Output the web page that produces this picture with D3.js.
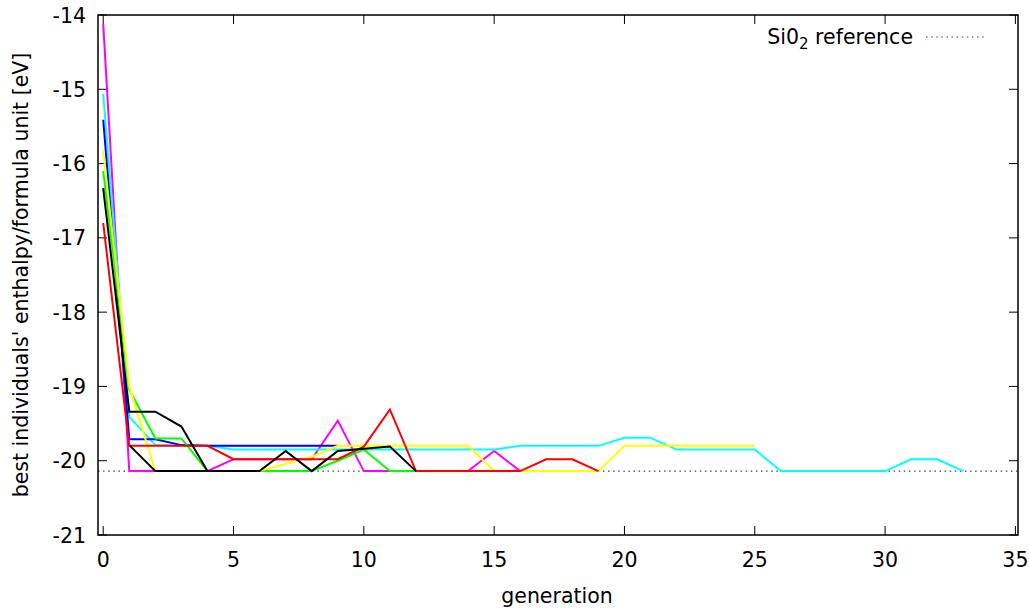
<!DOCTYPE html>
<html>
<head>
<meta charset="utf-8">
<script src="https://cdn.jsdelivr.net/npm/d3@7"></script>
<style>
  body { margin: 0; background: #fff; }
  text { font-family: "DejaVu Sans", sans-serif; font-size: 20.5px; fill: #000; }
</style>
</head>
<body>
<div id="chart"></div>
<script>
// best enthalpy per generation, one array per run (index = generation)
var magenta = [-14.12, -20.14, -20.14, -20.14, -20.14, -19.98, -19.98, -19.98, -19.98, -19.46,
  -20.14, -20.14, -20.14, -20.14, -20.14, -19.87, -20.14];
var cyan = [-15.06, -19.41, -19.79, -19.80, -19.80, -19.85, -19.85, -19.85, -19.85, -19.85,
  -19.85, -19.85, -19.85, -19.85, -19.85, -19.85, -19.80, -19.80, -19.80, -19.80,
  -19.69, -19.69, -19.85, -19.85, -19.85, -19.85, -20.14, -20.14, -20.14, -20.14,
  -20.14, -19.98, -19.98, -20.14];
var blue = [-15.41, -19.71, -19.71, -19.79, -19.80, -19.80, -19.80, -19.80, -19.80, -19.80];
var green = [-16.10, -19.04, -19.70, -19.70, -20.14, -20.14, -20.14, -20.14, -20.14, -20.00,
  -19.85, -20.14, -20.14];
var yellow = [-15.82, -19.00, -20.14, -20.14, -20.14, -20.14, -20.14, -20.04, -19.95, -19.80,
  -19.80, -19.80, -19.80, -19.80, -19.80, -20.14, -20.14, -20.14, -20.14, -20.14,
  -19.80, -19.80, -19.80, -19.80, -19.80, -19.80];
var red = [-16.80, -19.80, -19.80, -19.80, -19.80, -19.98, -19.98, -19.98, -19.98, -19.98,
  -19.81, -19.31, -20.14, -20.14, -20.14, -20.14, -20.14, -19.98, -19.98, -20.14];
var black = [-16.33, -19.34, -19.34, -19.54, -20.14, -20.14, -20.14, -19.87, -20.14, -19.87,
  -19.84, -19.81, -20.14];
var black2 = [null, -19.79, -20.14, -20.14, -20.14];

var sio2Ref = -20.14;
var xTicks = [0, 5, 10, 15, 20, 25, 30, 35];
var yTicks = [-21, -20, -19, -18, -17, -16, -15, -14];

var runs = [
  {values: magenta, color: "#ff00ff"},
  {values: cyan, color: "#00ffff"},
  {values: blue, color: "#0000ff"},
  {values: green, color: "#00ff00"},
  {values: yellow, color: "#ffff00"},
  {values: red, color: "#ff0000"},
  {values: black, color: "#000000"},
  {values: black2, color: "#000000"}
];

var W = 1029, H = 610;
var pLeft = 98, pRight = 1018, pTop = 15, pBottom = 535;

var svg = d3.select("#chart").append("svg")
  .attr("width", W).attr("height", H);

var x = d3.scaleLinear().domain([-0.2, 35.1]).range([pLeft, pRight]);
var y = d3.scaleLinear().domain([-21, -14]).range([pBottom, pTop]);

// ticks (inside, mirrored like gnuplot)
var tickLen = 9;
var g = svg.append("g");
xTicks.forEach(function(t){
  g.append("line").attr("x1", x(t)).attr("x2", x(t))
    .attr("y1", pBottom).attr("y2", pBottom - tickLen)
    .attr("stroke", "#000").attr("stroke-width", 1);
  g.append("line").attr("x1", x(t)).attr("x2", x(t))
    .attr("y1", pTop).attr("y2", pTop + tickLen)
    .attr("stroke", "#000").attr("stroke-width", 1);
  g.append("text").attr("x", x(t)).attr("y", 567)
    .attr("text-anchor", "middle").text(t);
});
yTicks.forEach(function(t){
  g.append("line").attr("x1", pLeft).attr("x2", pLeft + tickLen)
    .attr("y1", y(t)).attr("y2", y(t))
    .attr("stroke", "#000").attr("stroke-width", 1);
  g.append("line").attr("x1", pRight).attr("x2", pRight - tickLen)
    .attr("y1", y(t)).attr("y2", y(t))
    .attr("stroke", "#000").attr("stroke-width", 1);
  g.append("text").attr("x", 86).attr("y", y(t) + 7.5)
    .attr("text-anchor", "end").text(t);
});

// reference line
var dots = {"stroke": "#444", "stroke-width": 1.2, "stroke-dasharray": "1.5,3.6"};
var ref = svg.append("line")
  .attr("x1", pLeft).attr("x2", pRight)
  .attr("y1", y(sio2Ref)).attr("y2", y(sio2Ref));
Object.keys(dots).forEach(function(k){ ref.attr(k, dots[k]); });

// runs
var line = d3.line()
  .defined(function(d){ return d != null; })
  .x(function(d, i){ return x(i); })
  .y(function(d){ return y(d); });

svg.selectAll("path.run").data(runs).enter().append("path")
  .attr("class", "run")
  .attr("fill", "none")
  .attr("stroke", function(d){ return d.color; })
  .attr("stroke-width", 2)
  .attr("stroke-linejoin", "miter")
  .attr("d", function(d){ return line(d.values); });

// frame
svg.append("rect")
  .attr("x", pLeft).attr("y", pTop)
  .attr("width", pRight - pLeft).attr("height", pBottom - pTop)
  .attr("fill", "none").attr("stroke", "#000").attr("stroke-width", 1.5);

// legend
var lg = svg.append("text").attr("x", 913).attr("y", 44).attr("text-anchor", "end");
lg.append("tspan").text("Si0");
lg.append("tspan").attr("dy", 5).attr("font-size", "15px").text("2");
lg.append("tspan").attr("dy", -5).text(" reference");
var sample = svg.append("line").attr("x1", 926).attr("x2", 986)
  .attr("y1", 37).attr("y2", 37);
Object.keys(dots).forEach(function(k){ sample.attr(k, dots[k]); });

// axis titles
svg.append("text").attr("x", (pLeft + pRight) / 2 - 1).attr("y", 603)
  .attr("text-anchor", "middle").text("generation");
svg.append("text")
  .attr("transform", "translate(28," + ((pTop + pBottom) / 2) + ") rotate(-90)")
  .attr("text-anchor", "middle")
  .text("best individuals' enthalpy/formula unit [eV]");
</script>
</body>
</html>
